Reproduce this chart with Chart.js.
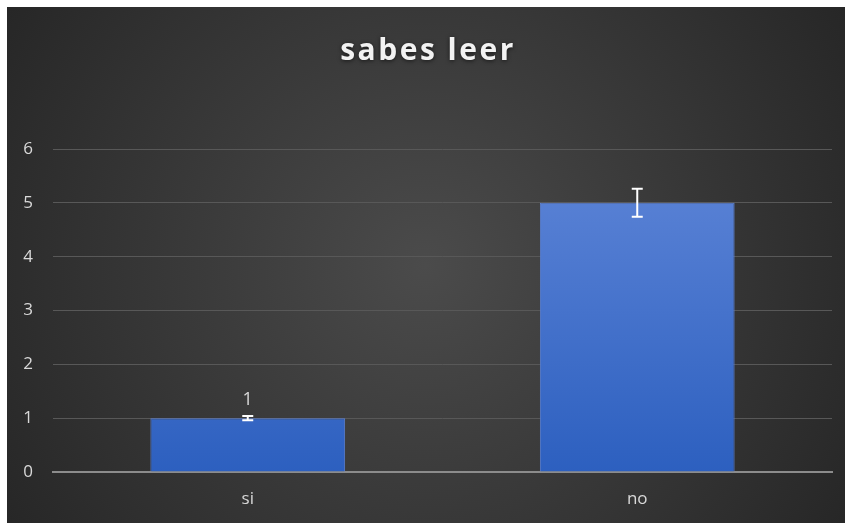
<!DOCTYPE html>
<html>
<head>
<meta charset="utf-8">
<script src="https://cdn.jsdelivr.net/npm/chart.js@4.4.1/dist/chart.umd.min.js"></script>
<style>
  html, body { margin: 0; padding: 0; background: #ffffff; }
  #wrap { position: absolute; left: 7px; top: 7px; width: 838px; height: 516px; }
</style>
</head>
<body>
<div id="wrap"><canvas id="chart"></canvas></div>
<script>
  // values
  var categories = ['si', 'no'];
  var counts = [1, 5];
  var errors = [0.04, 0.26];
  var labelShown = [true, false];
  var yTicks = [0, 1, 2, 3, 4, 5, 6];
  var chartTitle = 'sabes leer';

  // dark radial backdrop
  var backdrop = {
    id: 'backdrop',
    beforeDraw: function (chart) {
      var ctx = chart.ctx, w = chart.width, h = chart.height;
      var g = ctx.createRadialGradient(w / 2, h / 2, 0, w / 2, h / 2, w * 0.6);
      g.addColorStop(0, '#4b4b4b');
      g.addColorStop(1, '#262626');
      ctx.save();
      ctx.fillStyle = g;
      ctx.fillRect(0, 0, w, h);
      ctx.restore();
    }
  };

  // spaced title like the office one
  var spacedTitle = {
    id: 'spacedTitle',
    afterDraw: function (chart) {
      var ctx = chart.ctx;
      ctx.save();
      ctx.font = 'bold 30px "Open Sans", sans-serif';
      ctx.letterSpacing = '2.5px';
      ctx.textAlign = 'center';
      ctx.textBaseline = 'middle';
      ctx.shadowColor = 'rgba(0,0,0,0.6)';
      ctx.shadowBlur = 4;
      ctx.shadowOffsetY = 1;
      ctx.fillStyle = '#f2f2f2';
      ctx.fillText(chartTitle, chart.width / 2 + 2, 44);
      ctx.restore();
    }
  };

  // error bars and the single value label
  var errorBars = {
    id: 'errorBars',
    afterDatasetsDraw: function (chart) {
      var ctx = chart.ctx, y = chart.scales.y;
      var meta = chart.getDatasetMeta(0);
      ctx.save();
      meta.data.forEach(function (bar, i) {
        var top = y.getPixelForValue(counts[i] + errors[i]);
        var bot = y.getPixelForValue(counts[i] - errors[i]);
        ctx.strokeStyle = '#ffffff';
        ctx.lineWidth = 2;
        ctx.beginPath();
        ctx.moveTo(bar.x, top); ctx.lineTo(bar.x, bot);
        ctx.moveTo(bar.x - 5.5, top); ctx.lineTo(bar.x + 5.5, top);
        ctx.moveTo(bar.x - 5.5, bot); ctx.lineTo(bar.x + 5.5, bot);
        ctx.stroke();
        if (labelShown[i]) {
          ctx.fillStyle = '#d9d9d9';
          ctx.font = '18px "Open Sans", sans-serif';
          ctx.textAlign = 'center';
          ctx.textBaseline = 'bottom';
          ctx.fillText(String(counts[i]), bar.x, top - 7);
        }
      });
      ctx.restore();
    }
  };

  var ctx = document.getElementById('chart').getContext('2d');
  var barFill = ctx.createLinearGradient(0, 140, 0, 470);
  barFill.addColorStop(0, '#5f86d8');
  barFill.addColorStop(1, '#2c5fbf');

  new Chart(ctx, {
    type: 'bar',
    data: {
      labels: categories,
      datasets: [{
        data: counts,
        backgroundColor: barFill,
        borderColor: '#5b7fcf',
        borderWidth: 1,
        barPercentage: 1.0,
        categoryPercentage: 0.5
      }]
    },
    options: {
      responsive: true,
      maintainAspectRatio: false,
      animation: false,
      layout: { padding: { top: 142, left: 12, right: 13, bottom: 0 } },
      plugins: {
        legend: { display: false },
        title: { display: false },
        tooltip: { enabled: false }
      },
      scales: {
        x: {
          grid: { display: false, drawTicks: false },
          border: { color: '#8c8c8c', width: 2 },
          ticks: {
            color: '#d9d9d9',
            font: { family: '"Open Sans", sans-serif', size: 17 },
            padding: 17
          },
          afterFit: function (axis) { axis.height = 51; }
        },
        y: {
          min: 0,
          max: 6,
          afterBuildTicks: function (axis) {
            axis.ticks = yTicks.map(function (v) { return { value: v }; });
          },
          grid: { color: '#585858', lineWidth: 1, drawTicks: false },
          border: { display: false },
          ticks: {
            color: '#d9d9d9',
            font: { family: '"Open Sans", sans-serif', size: 17 },
            padding: 20
          },
          afterFit: function (axis) { axis.width = 34; }
        }
      }
    },
    plugins: [backdrop, spacedTitle, errorBars]
  });
</script>
</body>
</html>
